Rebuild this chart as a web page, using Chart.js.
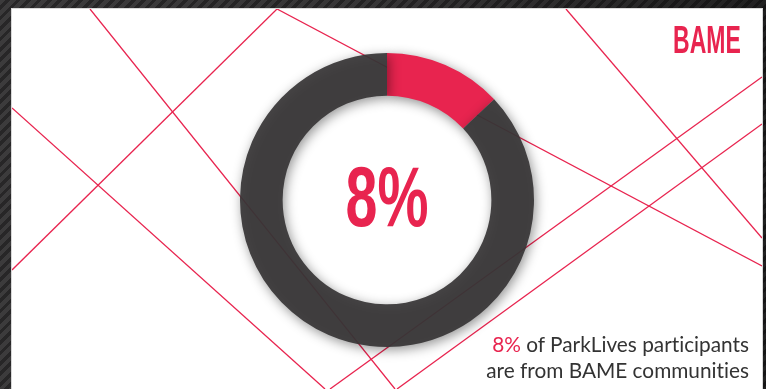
<!DOCTYPE html>
<html>
<head>
<meta charset="utf-8">
<script src="https://cdn.jsdelivr.net/npm/chart.js@4/dist/chart.umd.min.js"></script>
<style>
    html, body {
        margin: 0;
        padding: 0;
        width: 766px;
        height: 389px;
        overflow: hidden;
    }
    body {
        position: relative;
        background:
            linear-gradient(to right, rgba(0,0,0,0) 0%, rgba(0,0,0,0.1) 50%, rgba(0,0,0,0.45) 100%),
            repeating-linear-gradient(135deg, #3c3b3c 0px, #3c3b3c 4px, #272627 4px, #272627 7.4px);
    }
    .panel {
        position: absolute;
        left: 12px;
        top: 9px;
        width: 750px;
        height: 390px;
        background: #fff;
        box-shadow: 0 0 0 1px #d8d8d8;
    }
    #lines, #donut {
        position: absolute;
    }
    #lines { left: 0; top: 0; }
    #donut { left: 217px; top: 30px; }
    .title {
        position: absolute;
        right: 25px;
        top: 20px;
        font-family: "Liberation Sans", Arial, sans-serif;
        font-weight: bold;
        font-size: 39px;
        line-height: 1;
        color: #e8244f;
        transform: scaleX(0.59);
        transform-origin: right top;
    }
    .big {
        position: absolute;
        left: 287px;
        width: 200px;
        top: 154px;
        text-align: center;
        font-family: "Liberation Sans", Arial, sans-serif;
        font-weight: bold;
        font-size: 85px;
        line-height: 1;
        color: #e8244f;
        transform: scaleX(0.675);
        transform-origin: center top;
    }
    .note {
        position: absolute;
        right: 17px;
        top: 331px;
        text-align: right;
        font-family: Lato, "Open Sans", sans-serif;
        font-size: 20.8px;
        line-height: 26px;
        color: #333;
        white-space: nowrap;
        font-variant-ligatures: none;
    }
    .note .hl { color: #e8244f; }
</style>
</head>
<body>
<div class="panel"></div>
<canvas id="lines" width="766" height="389"></canvas>
<canvas id="donut" width="340" height="340"></canvas>
<div class="title">BAME</div>
<div class="big" id="bigValue">8%</div>
<div class="note"><span class="hl">8%</span> of ParkLives participants<br>are from BAME communities</div>

<script>
// Chart data
const categories = ['BAME', 'Other'];
const shares = [13, 87];
const sliceColors = ['#e8244f', 'rgba(56, 54, 55, 0.93)'];

// Thin red decoration lines behind the chart
const decoLines = [
    [[90, 9], [395, 389]],
    [[12, 108], [325, 389]],
    [[12, 270], [277, 9]],
    [[277, 9], [762, 266]],
    [[566, 9], [762, 238]],
    [[762, 77], [330, 389]],
    [[762, 124], [397, 389]]
];

function drawDecoration() {
    const ctx = document.getElementById('lines').getContext('2d');
    ctx.save();
    ctx.beginPath();
    ctx.rect(12, 9, 750, 390);
    ctx.clip();
    ctx.strokeStyle = '#e8244f';
    ctx.lineWidth = 1.3;
    decoLines.forEach(([a, b]) => {
        ctx.beginPath();
        ctx.moveTo(a[0], a[1]);
        ctx.lineTo(b[0], b[1]);
        ctx.stroke();
    });
    ctx.restore();
}

// Soft shadow around the ring
const ringShadow = {
    id: 'ringShadow',
    beforeDatasetsDraw(chart) {
        const ctx = chart.ctx;
        ctx.save();
        ctx.shadowColor = 'rgba(0, 0, 0, 0.45)';
        ctx.shadowBlur = 12;
        ctx.shadowOffsetX = 2;
        ctx.shadowOffsetY = 3;
    },
    afterDatasetsDraw(chart) {
        chart.ctx.restore();
    }
};

drawDecoration();

new Chart(document.getElementById('donut'), {
    type: 'doughnut',
    data: {
        labels: categories,
        datasets: [{
            data: shares,
            backgroundColor: sliceColors,
            borderWidth: 0
        }]
    },
    options: {
        responsive: false,
        animation: false,
        cutout: '71%',
        layout: { padding: 23 },
        plugins: {
            legend: { display: false },
            tooltip: { enabled: false }
        }
    },
    plugins: [ringShadow]
});
</script>
</body>
</html>
